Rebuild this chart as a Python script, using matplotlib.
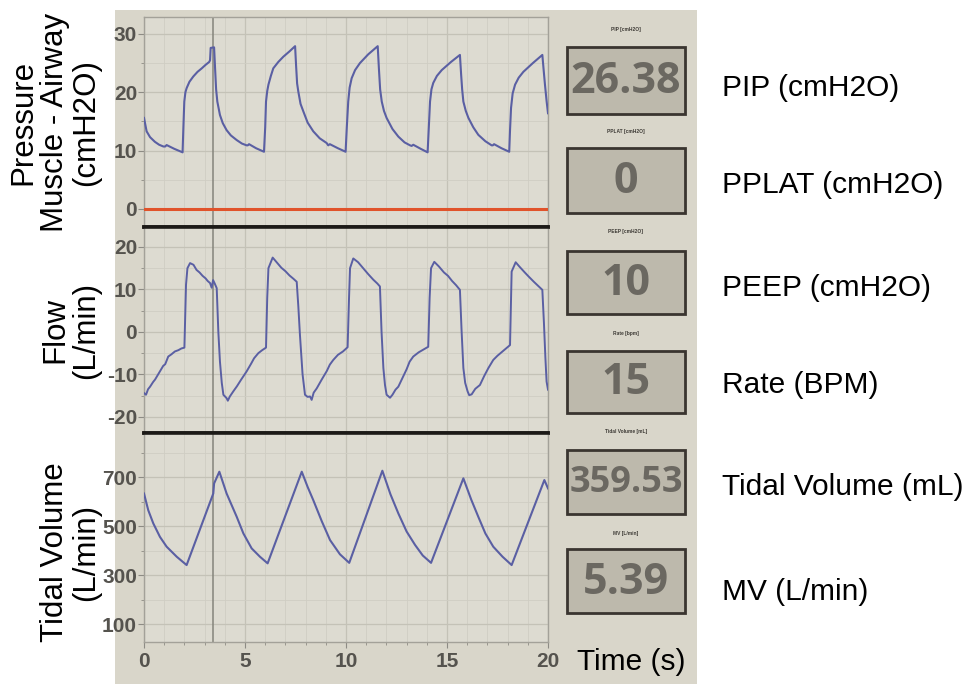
import matplotlib.pyplot as plt
from matplotlib.patches import Rectangle
from matplotlib.ticker import MultipleLocator

plt.rcParams['axes.unicode_minus'] = False

# --- data ---
pressure_t = [0, 0.13, 0.3, 0.54, 0.75, 0.96, 1.05, 1.12, 1.5, 1.91,
              1.95, 1.995, 2.05, 2.11, 2.25, 2.44, 2.65, 2.86, 3.05, 3.23, 3.27, 3.30, 3.47,
              3.52, 3.57, 3.63, 3.76, 3.9, 4.09, 4.3, 4.59, 4.85, 5.08, 5.14, 5.2, 5.55, 5.94,
              6.0, 6.04, 6.1, 6.16, 6.28, 6.40, 6.65, 6.9, 7.2, 7.48,
              7.53, 7.58, 7.64, 7.75, 7.89, 8.1, 8.38, 8.7, 9.04, 9.12, 9.2, 9.6, 9.98,
              10.04, 10.11, 10.18, 10.28, 10.45, 10.69, 11.1, 11.57,
              11.63, 11.69, 11.77, 11.88, 12.01, 12.3, 12.59, 12.9, 13.17, 13.25, 13.33, 13.7, 14.04,
              14.1, 14.16, 14.23, 14.32, 14.5, 14.74, 15.2, 15.64,
              15.7, 15.75, 15.81, 15.93, 16.06, 16.3, 16.55, 16.9, 17.21, 17.27, 17.33, 17.7, 18.08,
              18.12, 18.17, 18.25, 18.37, 18.55, 18.78, 19.25, 19.72,
              19.78, 19.85, 19.93, 20.0]
pressure = [15.6, 13.3, 12.3, 11.5, 11.0, 10.7, 10.7, 10.95, 10.3, 9.7,
            14.0, 18.4, 20.0, 20.7, 21.8, 22.7, 23.5, 24.1, 24.7, 25.2, 25.5, 27.6, 27.7,
            24.0, 20.5, 18.4, 16.1, 14.7, 13.5, 12.6, 11.8, 11.2, 10.9, 10.9, 11.1, 10.4, 9.8,
            14.0, 18.4, 20.2, 21.3, 22.8, 24.1, 25.2, 26.1, 27.0, 27.9,
            24.5, 21.5, 20.1, 18.0, 16.7, 14.8, 13.3, 12.1, 11.3, 10.9, 11.1, 10.4, 9.8,
            14.0, 18.4, 20.8, 22.4, 23.8, 25.0, 26.5, 27.9,
            24.0, 20.5, 18.4, 16.8, 15.6, 13.7, 12.4, 11.4, 10.9, 10.8, 11.0, 10.3, 9.7,
            14.0, 18.4, 20.5, 21.6, 22.8, 23.8, 25.2, 26.4,
            23.0, 20.5, 18.4, 16.8, 15.6, 14.0, 12.7, 11.6, 10.9, 10.9, 11.1, 10.4, 9.8,
            13.5, 17.3, 19.8, 21.3, 22.5, 23.5, 25.0, 26.4,
            24.0, 21.3, 18.5, 16.4]

flow_t = [0, 0.1, 0.2, 0.30, 0.45, 0.55, 0.79, 0.95, 1.05, 1.2, 1.35, 1.53, 1.7, 1.85, 2.0,
          2.08, 2.15, 2.28, 2.45, 2.6, 2.75, 2.9, 3.05, 3.15, 3.27, 3.35, 3.42, 3.5, 3.6,
          3.68, 3.76, 3.85, 3.93, 4.09, 4.15, 4.25, 4.42, 4.6, 4.8, 5.08, 5.3, 5.45, 5.66,
          5.85, 6.04,
          6.1, 6.16, 6.37, 6.55, 6.8, 7.0, 7.2, 7.4, 7.56, 7.64, 7.72, 7.85, 7.97, 8.1, 8.22,
          8.3, 8.4, 8.55, 8.8, 9.05, 9.2, 9.37, 9.6, 9.85, 10.08,
          10.15, 10.2, 10.36, 10.6, 10.85, 11.1, 11.35, 11.55, 11.68, 11.76, 11.85, 11.93,
          12.01, 12.18, 12.3, 12.45, 12.59, 12.8, 13.0, 13.15, 13.33, 13.6, 13.85, 14.07,
          14.14, 14.21, 14.37, 14.6, 14.85, 15.05, 15.25, 15.45, 15.64, 15.72, 15.81, 15.9,
          16.02, 16.1, 16.22, 16.4, 16.63, 16.85, 17.05, 17.29, 17.5, 17.7, 17.9, 18.12,
          18.16, 18.2, 18.4, 18.6, 18.85, 19.05, 19.3, 19.5, 19.72, 19.8, 19.87, 19.93, 20.0]
flow = [-14.4, -14.8, -13.5, -12.9, -11.8, -11.2, -9.3, -8.0, -7.6, -5.8, -5.3, -4.6, -4.3, -3.9,
        -3.7, 11.1, 15.0, 16.2, 15.8, 14.6, 14.0, 13.2, 12.6, 12.0, 11.5, 10.4, 12.2, 11.4, 10.3,
        0.0, -7.0, -12.0, -14.8, -15.6, -16.2, -15.2, -14.0, -12.8, -11.3, -9.3, -7.5, -6.2, -5.0,
        -4.3, -3.7,
        8.0, 15.0, 17.5, 16.5, 15.1, 14.3, 13.3, 12.5, 11.8, 6.0, -0.7, -10.0, -14.8, -15.3, -15.2,
        -16.0, -14.3, -13.3, -11.2, -9.2, -7.7, -6.6, -5.4, -4.6, -3.6,
        8.0, 15.0, 17.3, 16.4, 15.0, 13.6, 12.3, 11.4, 10.7, 0.0, -8.5, -12.5,
        -14.8, -15.5, -14.8, -13.6, -12.9, -10.8, -8.8, -7.0, -5.8, -4.8, -4.1, -3.5,
        8.0, 15.0, 16.5, 15.4, 14.0, 13.2, 12.0, 11.0, 9.9, 0.5, -8.5, -12.0,
        -14.0, -14.9, -14.7, -13.4, -12.5, -10.3, -8.5, -6.6, -5.6, -4.8, -4.0, -3.1,
        6.0, 14.2, 16.4, 15.3, 14.0, 13.0, 11.8, 10.9, 9.9, 2.0, -6.0, -11.7, -13.6]

volume_t = [0, 0.21, 0.46, 0.79, 1.12, 1.62, 2.11, 3.43, 3.47, 3.73, 4.09, 4.59, 4.92, 5.33,
            5.74, 6.12, 7.81, 8.1, 8.38, 8.8, 9.21, 9.7, 10.16, 11.8, 12.2, 12.59, 13.0, 13.42,
            13.8, 14.21, 15.81, 16.2, 16.55, 16.9, 17.29, 17.75, 18.2, 19.82, 20.0]
volume = [633, 565, 511, 456, 416, 375, 341, 633, 674, 722, 633, 538, 470, 409,
          375, 348, 722, 660, 606, 520, 443, 385, 350, 726, 630, 552, 478, 423,
          380, 350, 695, 608, 538, 470, 416, 375, 341, 688, 654]

cursor_t = 3.4

readout_titles = ["PIP [cmH2O]", "PPLAT [cmH2O]", "PEEP [cmH2O]", "Rate [bpm]",
                  "Tidal Volume [mL]", "MV [L/min]"]
readout_values = ["26.38", "0", "10", "15", "359.53", "5.39"]
readout_labels = ["PIP (cmH2O)", "PPLAT (cmH2O)", "PEEP (cmH2O)", "Rate (BPM)",
                  "Tidal Volume (mL)", "MV (L/min)"]

W, H = 968, 684
SCREEN = '#d9d6ca'
PLOTBG = '#dddbd1'
LINE = '#5a5fa3'
TICKC = '#55534e'
SANS = ['Liberation Sans', 'DejaVu Sans']

fig = plt.figure(figsize=(9.68, 6.84), dpi=100, facecolor='white')


def fx(px):
    return px / W


def fy(py):
    return 1 - py / H


# photographed screen area, kept behind everything
fig.patches.append(Rectangle((fx(115), 0), fx(697) - fx(115), fy(10),
                             transform=fig.transFigure, facecolor=SCREEN,
                             edgecolor='none', zorder=-10))

left, right = 144, 548
ax_p = fig.add_axes([fx(left), fy(227), fx(right) - fx(left), (227 - 17) / H])
ax_f = fig.add_axes([fx(left), fy(433), fx(right) - fx(left), (433 - 227) / H])
ax_v = fig.add_axes([fx(left), fy(642), fx(right) - fx(left), (642 - 433) / H])

ax_p.plot(pressure_t, pressure, color=LINE, lw=1.5, zorder=3)
ax_p.axhline(0, color='#e0532b', lw=2.2, zorder=3)
ax_f.plot(flow_t, flow, color=LINE, lw=1.4, zorder=3)
ax_v.plot(volume_t, volume, color=LINE, lw=1.5, zorder=3)

ax_p.set_ylim(-3.1, 32.9)
ax_f.set_ylim(-23.8, 24.7)
ax_v.set_ylim(27, 880)

ax_p.yaxis.set_major_locator(MultipleLocator(10))
ax_p.yaxis.set_minor_locator(MultipleLocator(5))
ax_f.yaxis.set_major_locator(MultipleLocator(10))
ax_f.yaxis.set_minor_locator(MultipleLocator(5))
ax_v.set_yticks([100, 300, 500, 700])
ax_v.set_yticks([200, 400, 600, 800], minor=True)

for ax in (ax_p, ax_f, ax_v):
    ax.set_xlim(0, 20)
    ax.set_facecolor(PLOTBG)
    ax.xaxis.set_major_locator(MultipleLocator(5))
    ax.xaxis.set_minor_locator(MultipleLocator(1))
    ax.grid(which='major', color='#c4c2b7', lw=0.9)
    ax.grid(which='minor', color='#cfcdc3', lw=0.6)
    ax.set_axisbelow(True)
    ax.axvline(cursor_t, color='#85847c', lw=1.1, zorder=2)
    for s in ax.spines.values():
        s.set_color('#a3a199')
        s.set_linewidth(1)
    ax.tick_params(axis='both', which='major', colors='#8d8b84', length=4,
                   labelcolor=TICKC, labelsize=15)
    ax.tick_params(axis='both', which='minor', colors='#8d8b84', length=2.5)
    ax.tick_params(axis='y', pad=1)
    for lab in ax.get_yticklabels() + ax.get_xticklabels():
        lab.set_family(SANS)
        lab.set_fontweight('bold')

for ax in (ax_p, ax_f):
    ax.tick_params(axis='x', which='both', bottom=False, labelbottom=False)

# thick separators between panels
for ax, sides in ((ax_p, ['bottom']), (ax_f, ['top', 'bottom']), (ax_v, ['top'])):
    for side in sides:
        ax.spines[side].set_color('#1c1a17')
        ax.spines[side].set_linewidth(2.6)

# overlay in pixel coordinates for readouts and labels
ov = fig.add_axes([0, 0, 1, 1])
ov.set_xlim(0, W)
ov.set_ylim(H, 0)
ov.axis('off')

box_tops = [47, 148, 251, 351, 450, 549]
box_bottoms = [114, 213, 314, 413, 514, 613]
title_y = [30, 132, 232, 333, 431, 533]
label_y = [88, 185, 288, 385, 487, 592]

for i in range(len(readout_values)):
    top, bot = box_tops[i], box_bottoms[i]
    ov.add_patch(Rectangle((567, top), 118, bot - top, facecolor='#bdb9ac',
                           edgecolor='#3a3530', lw=2))
    ov.text(626, title_y[i], readout_titles[i], ha='center', va='center',
            fontsize=3.5, fontweight='bold', color='#3d3a35', family=SANS)
    ov.text(626, (top + bot) / 2 + 1, readout_values[i], ha='center', va='center',
            fontsize=31 if len(readout_values[i]) < 6 else 26, fontweight='bold',
            color='#6b6861', family=['Open Sans', 'DejaVu Sans'])
    ov.text(722, label_y[i], readout_labels[i], ha='left', va='center',
            fontsize=21.5, color='black', family=SANS)

ov.text(55, 122, "Pressure\nMuscle - Airway\n(cmH2O)", rotation=90, ha='center',
        va='center', fontsize=22.5, color='black', family=SANS, linespacing=1.05)
ov.text(71, 330, "Flow\n(L/min)", rotation=90, ha='center', va='center',
        fontsize=22.5, color='black', family=SANS, linespacing=1.05)
ov.text(71, 552, "Tidal Volume\n(L/min)", rotation=90, ha='center', va='center',
        fontsize=22.5, color='black', family=SANS, linespacing=1.05)
ov.text(577, 662, "Time (s)", ha='left', va='center', fontsize=21.5,
        color='black', family=SANS)

fig.savefig('out.png', dpi=100, facecolor='white')
